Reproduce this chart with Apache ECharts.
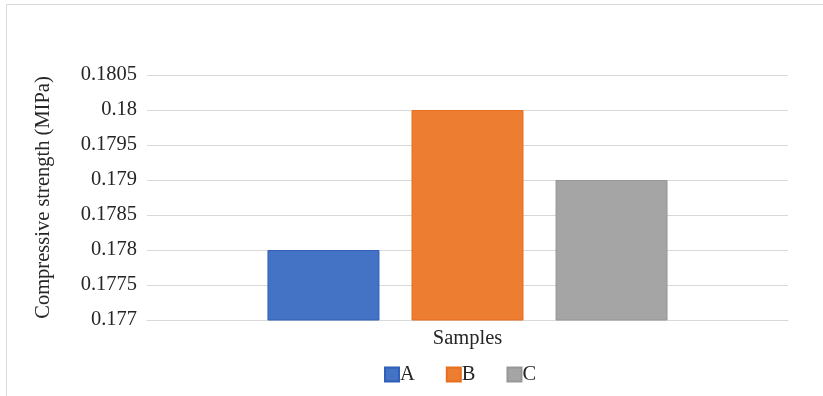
<!DOCTYPE html>
<html>
<head>
<meta charset="utf-8">
<script src="https://cdn.jsdelivr.net/npm/echarts@6/dist/echarts.min.js"></script>
<style>
  html, body { margin: 0; padding: 0; background: #fff; }
  #chart { width: 823px; height: 396px; }
</style>
</head>
<body>
<div id="chart"></div>
<script>
// Compressive strength per sample group
const categories = ['Samples'];
const seriesNames = ['A', 'B', 'C'];
const valuesA = [0.178];
const valuesB = [0.18];
const valuesC = [0.179];
const seriesValues = [valuesA, valuesB, valuesC];
const colors = ['#4472C4', '#ED7D31', '#A5A5A5'];
const borderColors = ['#2F5FB8', '#E86F1E', '#979797'];

const FONT = '"Liberation Serif", "Times New Roman", serif';
const FS = 20.5;
const TEXT = '#262626';

const chart = echarts.init(document.getElementById('chart'));
chart.setOption({
  animation: false,
  graphic: [{
    type: 'rect',
    shape: { x: 6.5, y: 4.5, width: 900, height: 500 },
    style: { fill: 'none', stroke: '#D9D9D9', lineWidth: 1 },
    silent: true
  }],
  grid: { left: 147, right: 35, top: 75, bottom: 76 },
  legend: {
    left: 384,
    top: 364,
    padding: 0,
    itemWidth: 14,
    itemHeight: 14,
    itemGap: 31,
    icon: 'rect',
    textStyle: { fontFamily: FONT, fontSize: FS, color: TEXT, padding: [0, 0, 0, -4] },
    data: seriesNames
  },
  xAxis: {
    type: 'category',
    data: categories,
    axisLine: { lineStyle: { color: '#D9D9D9' } },
    axisTick: { show: false },
    axisLabel: { fontFamily: FONT, fontSize: FS, color: TEXT, margin: 8 }
  },
  yAxis: {
    type: 'value',
    min: 0.177,
    max: 0.1805,
    interval: 0.0005,
    name: 'Compressive strength (MIPa)',
    nameLocation: 'middle',
    nameGap: 93,
    nameTextStyle: { fontFamily: FONT, fontSize: FS, color: TEXT },
    axisLine: { show: false },
    axisTick: { show: false },
    splitLine: { lineStyle: { color: '#D9D9D9' } },
    axisLabel: {
      fontFamily: FONT, fontSize: FS, color: TEXT, margin: 10,
      formatter: v => String(parseFloat(v.toFixed(4)))
    }
  },
  series: seriesNames.map((name, i) => ({
    name,
    type: 'bar',
    data: seriesValues[i],
    barWidth: 112,
    barGap: '28.6%',
    itemStyle: { color: colors[i], borderColor: borderColors[i], borderWidth: 1 }
  }))
});
</script>
</body>
</html>
